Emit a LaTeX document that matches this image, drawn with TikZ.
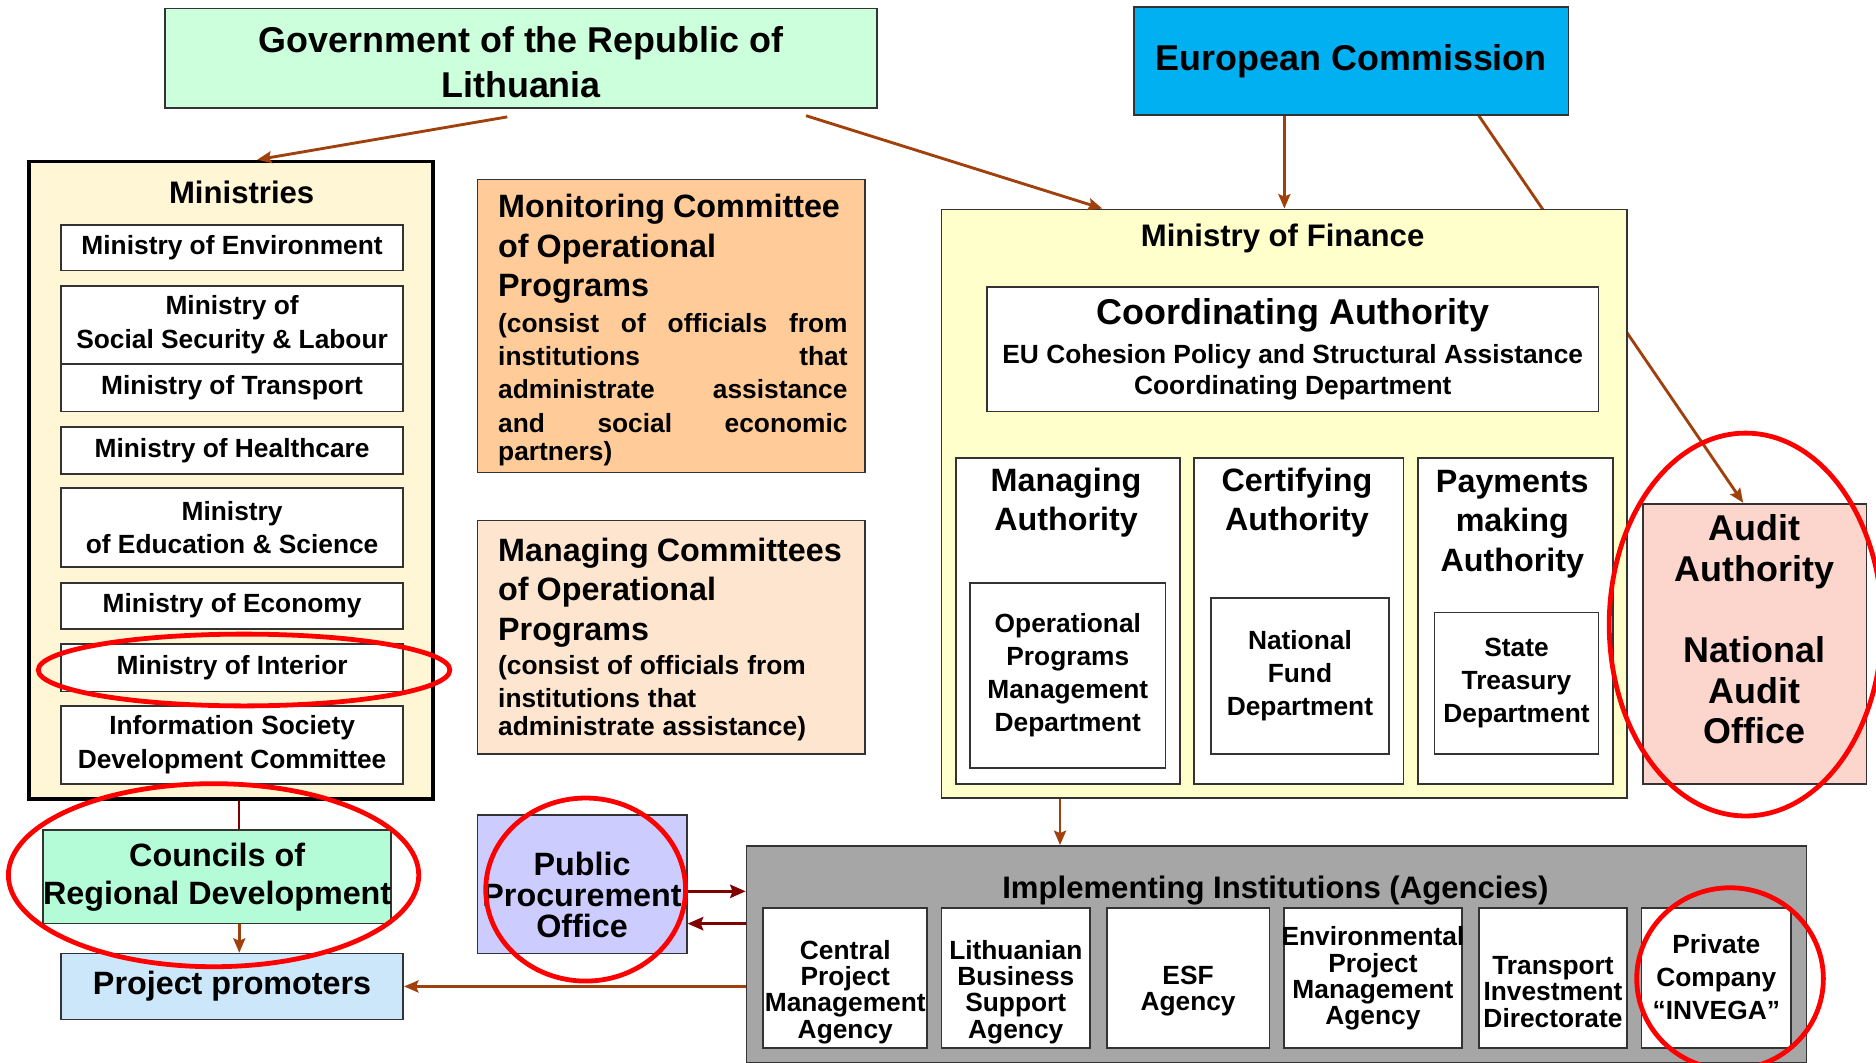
\documentclass[tikz,border=0pt]{standalone}
\usepackage{fontspec}
\setmainfont{Liberation Sans}
\usetikzlibrary{arrows.meta,backgrounds}
\newcommand{\fsz}[2]{\fontsize{#1}{#2}\selectfont\bfseries}
\definecolor{govgreen}{HTML}{CCFFDC}
\definecolor{ecblue}{HTML}{00B0F0}
\definecolor{mincream}{HTML}{FFF6D5}
\definecolor{monorange}{HTML}{FFCC99}
\definecolor{mgmpeach}{HTML}{FDE5CF}
\definecolor{mofyellow}{HTML}{FFFFCC}
\definecolor{auditpink}{HTML}{FCD6CC}
\definecolor{councilgreen}{HTML}{B4FCD8}
\definecolor{ppblue}{HTML}{CCE6FA}
\definecolor{ppolilac}{HTML}{CCCCFF}
\definecolor{implgray}{HTML}{A6A6A6}
\definecolor{arrowbrown}{HTML}{A0410D}
\definecolor{darkred}{HTML}{800000}
\definecolor{ringred}{HTML}{FF0000}
\begin{document}
\begin{tikzpicture}[x=0.5pt, y=-0.5pt,
  box/.style={draw=black!80, line width=0.7pt, fill=white, inner sep=0pt, align=center},
  txt/.style={inner sep=0pt, align=center},
  conn/.style={draw=arrowbrown, line width=1.2pt, -{Stealth[length=6pt, width=5pt, inset=1pt]}},
  ppconn/.style={draw=darkred, line width=1.4pt, -{Stealth[length=6.5pt, width=5.5pt, inset=1pt]}},
  ring/.style={draw=ringred, line width=2pt}]
\useasboundingbox (0,0) rectangle (1568,888);

% top row
\node[box, fill=govgreen, minimum width=297.5pt, minimum height=41.5pt] (gov) at (435.5,48.5) {};
\node[txt, font=\fsz{15}{19}] (govT) at (435.5,52) {Government of the Republic of\\Lithuania};
\node[box, fill=ecblue, minimum width=181.5pt, minimum height=45pt, font=\fsz{15}{18}] (ec) at (1129.5,51) {European Commission};

% ministries
\node[box, fill=mincream, draw=black, line width=1.5pt, minimum width=169pt, minimum height=266.5pt] (mins) at (193,401.5) {};
\node[txt, font=\fsz{13}{15}] (minsT) at (202,161) {Ministries};
\foreach \n/\y/\h/\t in {env/207/19pt/{Ministry of Environment},
    soc/271.5/32.5pt/{Ministry of\\Social Security \& Labour},
    trans/324/20pt/{Ministry of Transport},
    health/376.5/19.5pt/{Ministry of Healthcare},
    edu/441/33pt/{Ministry\\of Education \&  Science},
    econ/506.5/19.5pt/{Ministry of Economy},
    inter/558/20pt/{Ministry of Interior},
    info/622.5/32.5pt/{Information Society\\Development Committee}}
  \node[box, minimum width=143pt, minimum height=\h, font=\fsz{11}{14}] (\n) at (194,\y) {\t};

% committees
\node[box, fill=monorange, minimum width=162pt, minimum height=122.5pt] (mon) at (561,272.5) {};
\node[txt, anchor=north west, text width=146pt, align=left] (monT) at (416,162)
  {\fsz{13.5}{16.5}Monitoring Committee\\of Operational\\Programs\par\vspace{1pt}
   \fsz{11}{13.9}(consist\hfill of\hfill officials\hfill from\\institutions\hfill that\\administrate\hfill assistance\\and\hfill social\hfill economic\\partners)};
\node[box, fill=mgmpeach, minimum width=162pt, minimum height=97.5pt] (mgm) at (561,532.5) {};
\node[txt, anchor=north west, text width=150pt, align=left] (mgmT) at (416,449)
  {\fsz{13.5}{16.5}Managing Committees\\of Operational\\Programs\par\vspace{1pt}
   \fsz{11}{13.5}(consist of officials from\\institutions that\\administrate assistance)};

% ministry of finance
\node[box, fill=mofyellow, minimum width=286.5pt, minimum height=246pt] (mof) at (1073.5,421) {};
\node[txt, font=\fsz{13}{15}] (mofT) at (1072,199) {Ministry of Finance};
\node[box, minimum width=255.5pt, minimum height=52pt, font=\fsz{11}{13}] (coord) at (1080.5,292)
  {{\fsz{15}{15}Coordinating Authority}\\[3.5pt]EU Cohesion Policy and Structural Assistance\\Coordinating Department};
\node[box, minimum width=93.5pt, minimum height=136pt] (ma) at (892.5,519) {};
\node[txt, font=\fsz{13.5}{16.5}] (maT) at (891,420) {Managing\\Authority};
\node[box, minimum width=81.5pt, minimum height=77.5pt, font=\fsz{11}{13.8}] (opmd) at (892.5,564.5) {Operational\\Programs\\Management\\Department};
\node[box, minimum width=87.5pt, minimum height=136pt] (ca) at (1085.5,519) {};
\node[txt, font=\fsz{13.5}{16.5}] (caT) at (1084,420) {Certifying\\Authority};
\node[box, minimum width=74.5pt, minimum height=65pt, font=\fsz{11}{13.8}] (nfd) at (1086.5,565) {National\\Fund\\Department};
\node[box, minimum width=81.5pt, minimum height=136pt] (pa) at (1266.5,519) {};
\node[txt, font=\fsz{13.5}{16.5}] (paT) at (1264,438) {Payments\\making\\Authority};
\node[box, minimum width=68.5pt, minimum height=59pt, font=\fsz{11}{13.8}] (std) at (1267.5,571) {State\\Treasury\\Department};

% audit
\node[box, fill=auditpink, minimum width=93.5pt, minimum height=117pt] (audit) at (1466.5,538) {};
\node[txt, font=\fsz{15}{17}] (auditT) at (1466.5,526) {Audit\\Authority\\[17pt]National\\Audit\\Office};

% bottom left
\node[box, fill=councilgreen, minimum width=143.5pt, minimum height=39pt, font=\fsz{13.5}{16}] (councils) at (181.5,733) {Councils of\\Regional Development};
\node[box, fill=ppblue, minimum width=143pt, minimum height=27.5pt, font=\fsz{13.5}{16}] (pp) at (194,824.5) {Project promoters};
\node[box, fill=ppolilac, minimum width=87.5pt, minimum height=58pt, font=\fsz{13.5}{13}] (ppo) at (486.5,739) {};
\node[txt, font=\fsz{13.5}{13}] (ppoT) at (486.5,748) {Public\\Procurement\\Office};

% implementing institutions
\node[box, fill=implgray, minimum width=443pt, minimum height=90.5pt] (impl) at (1067,797.5) {};
\node[txt, font=\fsz{13}{15}] (implT) at (1066,744) {Implementing Institutions (Agencies)};
\foreach \n/\x/\w/\ty/\t in {cpma/706.5/68.5pt/829/{Central\\Project\\Management\\Agency},
    lbsa/849/62pt/829/{Lithuanian\\Business\\Support\\Agency},
    esf/993/68pt/828.5/{ESF\\Agency},
    epma/1147.5/74.5pt/818/{Environmental\\Project\\Management\\Agency},
    tid/1298/62pt/829/{Transport\\Investment\\Directorate},
    invega/1434.5/62.5pt/816.5/{Private\\[2.75pt]Company\\[2.75pt]``INVEGA''}}
{
  \node[box, minimum width=\w, minimum height=58.5pt] (\n) at (\x,817.5) {};
  \node[txt, font=\fsz{11}{11}] (t\n) at (\x,\ty) {\t};
}

% connectors
\begin{pgfonlayer}{background}
\draw[conn] ([xshift=53.25pt]ec.south) -- ([xshift=-4.75pt]audit.north);
\end{pgfonlayer}
\draw[conn] ([xshift=-5.75pt, yshift=-3.5pt]gov.south) -- ([xshift=11pt]mins.north);
\draw[conn] ([xshift=-30pt, yshift=-3pt]gov.south east) -- ([xshift=67.5pt]mof.north west);
\draw[conn] (ec.south -| mof.north) -- (mof.north);
\draw[draw=darkred, line width=1pt] ([xshift=3.5pt]mins.south) -- ([xshift=3.5pt]mins.south |- councils.north);
\draw[conn] ([xshift=3pt]pp.north |- councils.south) -- ([xshift=3pt]pp.north);
\draw[conn] ([xshift=-93.75pt]mof.south) -- ([xshift=-93.75pt]mof.south |- impl.north);
\draw[conn] (pp.east -| impl.west) -- (pp.east);
\draw[ppconn] ([yshift=-3pt]ppo.east) -- ([yshift=-3pt]ppo.east -| impl.west);
\draw[ppconn] ([yshift=-16.5pt]ppo.east -| impl.west) -- ([yshift=-16.5pt]ppo.east);

% red rings
\draw[ring] (204,560) ellipse [x radius=86pt, y radius=15pt];
\draw[ring] (178.5,731.5) ellipse [x radius=85.75pt, y radius=38.25pt];
\draw[ring] (489.5,743.5) ellipse [x radius=41.75pt, y radius=38.25pt];
\draw[ring] (1459,522) ellipse [x radius=57pt, y radius=80pt];
\draw[ring] (1446,818) ellipse [x radius=39pt, y radius=38pt];
\end{tikzpicture}
\end{document}
